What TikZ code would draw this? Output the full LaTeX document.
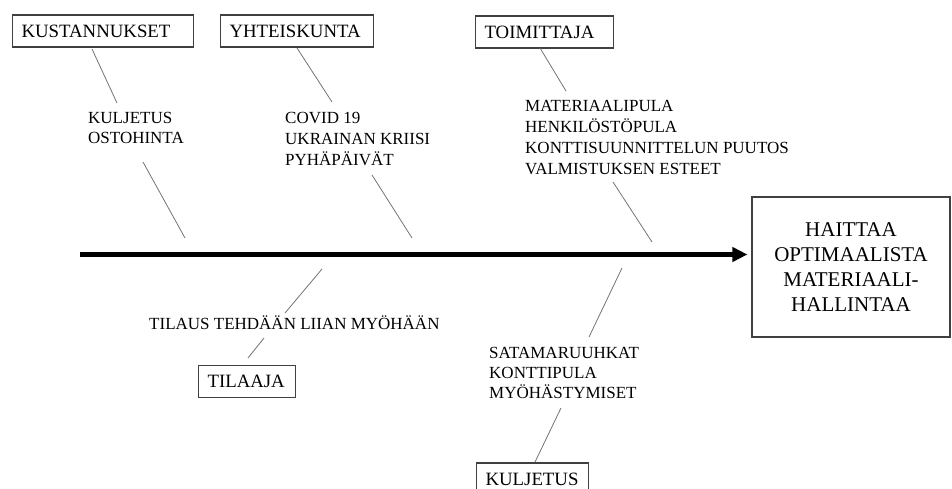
\documentclass[tikz,border=0pt]{standalone}
\usepackage{fontspec}
\setmainfont{Liberation Serif}
\usetikzlibrary{arrows.meta}
\begin{document}
\begin{tikzpicture}[x=1pt,y=-1pt,
  catbox/.style={draw=black!75, line width=1.1pt, rectangle, inner xsep=9pt, inner ysep=0pt,
    minimum height=32pt, text width=#1, align=left, font=\fontsize{18.8}{22}\selectfont, anchor=west},
  causes/.style={inner sep=0pt, align=left, anchor=base west, font=\fontsize{17}{20.5}\selectfont},
  goalbox/.style={draw=black!75, line width=1.1pt, rectangle, minimum width=198pt, minimum height=140pt,
    align=center, inner sep=0pt, font=\fontsize{21}{25}\selectfont},
  conn/.style={draw=black!55, line width=0.8pt},
  spine/.style={line width=5pt, -{Triangle[length=15pt,width=14pt]}}]
\useasboundingbox (0,0) rectangle (952,489);

% category boxes
\node[catbox=163pt] (kust) at (12,31) {KUSTANNUKSET};
\node[catbox=135pt] (yht) at (220,31) {YHTEISKUNTA};
\node[catbox=120pt] (toim) at (475,32) {TOIMITTAJA};
\node[catbox=79pt] (tilaaja) at (198,381.5) {TILAAJA};
\node[catbox=94pt] (kulj) at (476,479) {KULJETUS};

% goal
\node[goalbox] (goal) at (851,267) {HAITTAA\\OPTIMAALISTA\\MATERIAALI-\\HALLINTAA};

% cause texts (base anchor = baseline of the last line)
\node[causes] (c1) at (88,144) {KULJETUS\\OSTOHINTA};
\node[causes] (c2) at (285,165) {COVID 19\\UKRAINAN KRIISI\\PYHÄPÄIVÄT};
\node[causes, font=\fontsize{17}{21}\selectfont] (c3) at (525,175) {MATERIAALIPULA\\HENKILÖSTÖPULA\\KONTTISUUNNITTELUN PUUTOS\\VALMISTUKSEN ESTEET};
\node[causes] (c4) at (149,329) {TILAUS TEHDÄÄN LIIAN MYÖHÄÄN};
\node[causes, font=\fontsize{17}{20}\selectfont] (c5) at (489,398) {SATAMARUUHKAT\\KONTTIPULA\\MYÖHÄSTYMISET};

% spine
\coordinate (s0) at (80,254.5);
\draw[spine] (s0) -- ([xshift=-4pt]goal.west |- s0);

% connector end points
\coordinate (a1) at (92,49);   \coordinate (a2) at (117,103);
\coordinate (a3) at (143,162); \coordinate (a4) at (185,238);
\coordinate (b1) at (297,48);  \coordinate (b2) at (332,102);
\coordinate (b3) at (372,175); \coordinate (b4) at (412,238);
\coordinate (d1) at (540,48);  \coordinate (d2) at (566,91);
\coordinate (d3) at (613,182); \coordinate (d4) at (652,242);
\coordinate (e1) at (322,269); \coordinate (e2) at (285,313);
\coordinate (e3) at (264,338); \coordinate (e4) at (248,358);
\coordinate (f1) at (622,268); \coordinate (f2) at (589,337);
\coordinate (f3) at (561,408); \coordinate (f4) at (535,462);

\draw[conn] (a1) -- (a2);
\draw[conn] (a3) -- (a4);
\draw[conn] (b1) -- (b2);
\draw[conn] (b3) -- (b4);
\draw[conn] (d1) -- (d2);
\draw[conn] (d3) -- (d4);
\draw[conn] (e1) -- (e2);
\draw[conn] (e3) -- (e4);
\draw[conn] (f1) -- (f2);
\draw[conn] (f3) -- (f4);
\end{tikzpicture}
\end{document}
